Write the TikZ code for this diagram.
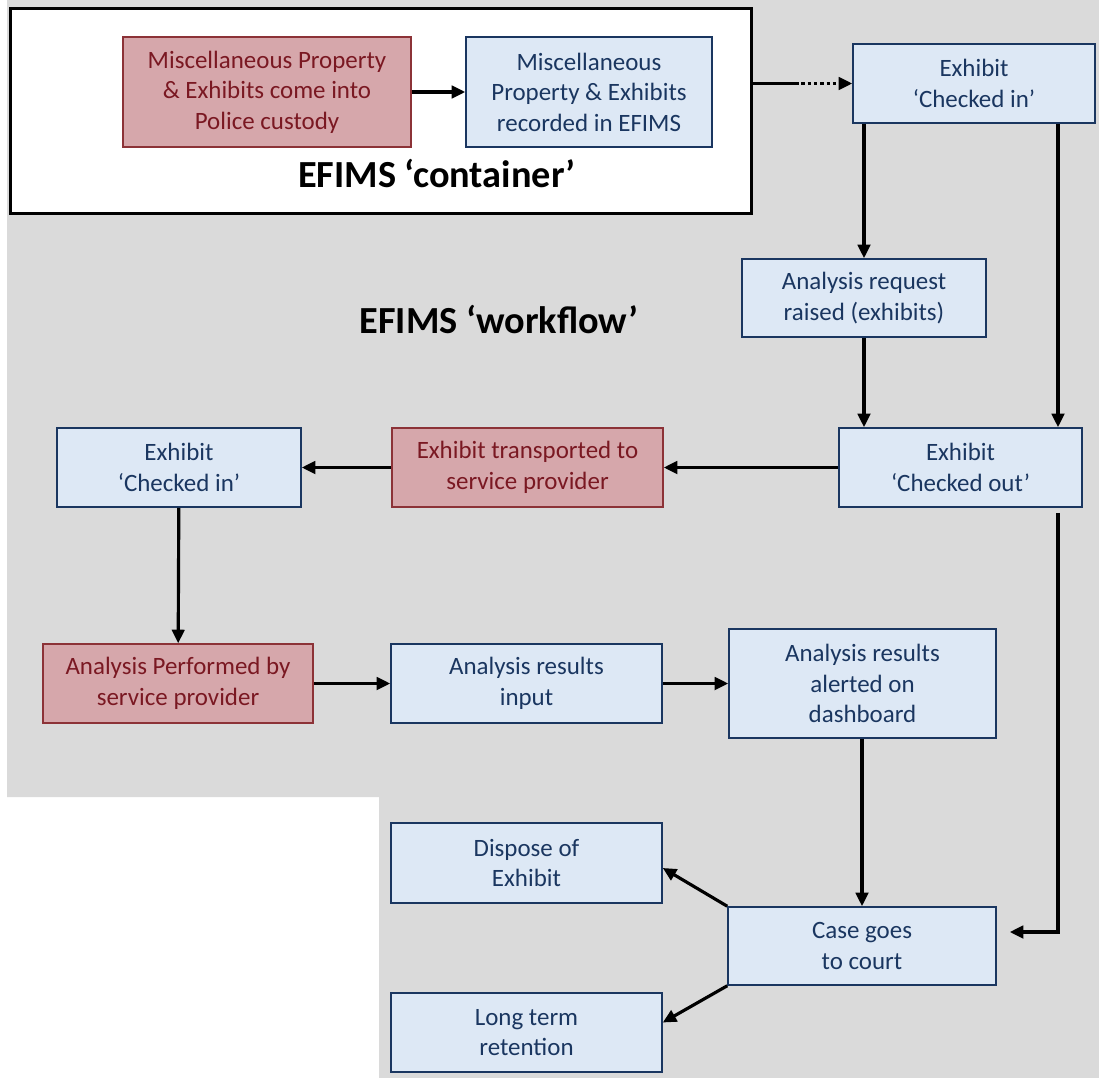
\documentclass[tikz,border=0pt]{standalone}
\usepackage{fontspec}
\setmainfont{Carlito}
\usetikzlibrary{arrows.meta}
\definecolor{scangrey}{RGB}{218, 218, 218}
\definecolor{paleblue}{RGB}{221, 232, 245}
\definecolor{navy}{RGB}{26, 54, 96}
\definecolor{dustyrose}{RGB}{214, 167, 171}
\definecolor{maroon}{RGB}{122, 24, 34}
\definecolor{darkrose}{RGB}{140, 50, 55}

\tikzset{
  bluebox/.style={draw=navy, fill=paleblue, text=navy, line width=0.9pt, inner sep=0pt, align=center,
                  font=\fontsize{14.2}{17.4}\selectfont},
  redbox/.style={draw=darkrose, fill=dustyrose, text=maroon, line width=0.9pt, inner sep=0pt, align=center,
                 font=\fontsize{14.2}{17.4}\selectfont},
  heading/.style={font=\fontsize{21.8}{26}\selectfont\bfseries, inner sep=0pt, anchor=base},
  arr/.style={line width=1.8pt, -{Triangle[length=0.27cm, width=0.25cm]}},
  link/.style={line width=1.8pt}
}

\begin{document}
\begin{tikzpicture}[x=0.02cm, y=-0.02cm]
            \useasboundingbox (0,0) rectangle (1099,1078);
            % scanned page behind the chart
            \fill[scangrey] (7,0) -- (1099,0) -- (1099,1078) -- (379,1078) -- (379,797) -- (7,797) -- cycle;
            \node[draw, fill=white, line width=1.7pt, minimum width=14.84cm, minimum height=4.12cm, inner sep=0pt]
                                                                        (container) at (381, 111) {};

            % EFIMS container
            \node[redbox,  minimum width=5.76cm, minimum height=2.20cm] (custody)   at (267, 92)  {Miscellaneous Property\\ \& Exhibits come into\\ Police custody};
            \node[bluebox, minimum width=4.92cm, minimum height=2.20cm] (recorded)  at (589, 92)  {Miscellaneous\\ Property \& Exhibits\\ recorded in EFIMS};
            \node[heading] (contitle) at (437, 187) {EFIMS ‘container’};

            % EFIMS workflow
            \node[heading] (flowtitle) at (499, 333) {EFIMS ‘workflow’};
            \node[bluebox, minimum width=4.84cm, minimum height=1.58cm] (checkin)   at (974, 83.5)  {Exhibit\\ ‘Checked in’};
            \node[bluebox, minimum width=4.88cm, minimum height=1.56cm] (request)   at (864, 298)   {Analysis request\\ raised (exhibits)};
            \node[bluebox, minimum width=4.86cm, minimum height=1.58cm] (checkout)  at (960.5, 467.5) {Exhibit\\ ‘Checked out’};
            \node[redbox,  minimum width=5.42cm, minimum height=1.58cm] (transport) at (527.5, 467.5) {Exhibit transported to\\ service provider};
            \node[bluebox, minimum width=4.88cm, minimum height=1.58cm] (arrived)   at (179, 467.5)   {Exhibit\\ ‘Checked in’};
            \node[redbox,  minimum width=5.40cm, minimum height=1.58cm] (performed) at (178, 683.5)   {Analysis Performed by\\ service provider};
            \node[bluebox, minimum width=5.42cm, minimum height=1.58cm] (input)     at (526.5, 683.5) {Analysis results\\ input};
            \node[bluebox, minimum width=5.34cm, minimum height=2.18cm] (dashboard) at (862.5, 683.5) {Analysis results\\ alerted on\\ dashboard};
            \node[bluebox, minimum width=5.42cm, minimum height=1.60cm] (dispose)   at (526.5, 863)   {Dispose of\\ Exhibit};
            \node[bluebox, minimum width=5.36cm, minimum height=1.56cm] (court)     at (862, 946)     {Case goes\\ to court};
            \node[bluebox, minimum width=5.42cm, minimum height=1.58cm] (retention) at (526.5, 1032.5) {Long term\\ retention};

            \coordinate (rightcol) at (1058, 0);
            \coordinate (dotstart) at (795, 83.5);

            % connectors
            \draw[arr] (custody) -- (recorded);
            \draw[link] (container.east |- dotstart) -- (dotstart);
            \draw[arr, dash pattern=on 2pt off 1.6pt] (dotstart) -- (checkin.west);
            \draw[arr] (request.north |- checkin.south) -- (request.north);
            \draw[arr] (checkin.south -| rightcol) -- (checkout.north -| rightcol);
            \draw[arr] (request.south) -- (request.south |- checkout.north);
            \draw[arr] (checkout) -- (transport);
            \draw[arr] (transport) -- (arrived);
            \draw[arr] (arrived) -- (performed);
            \draw[arr] (performed) -- (input);
            \draw[arr] (input) -- (dashboard);
            \draw[arr] (dashboard.south -| court.north) -- (court.north);
            \draw[arr] ([yshift=-0.1cm]checkout.south -| rightcol) |- ([xshift=0.26cm, yshift=0.28cm]court.east);
            \draw[arr] (court.north west) -- ([yshift=-0.1cm]dispose.east);
            \draw[arr] (court.south west) -- ([yshift=0.2cm]retention.east);
        \end{tikzpicture}
\end{document}
